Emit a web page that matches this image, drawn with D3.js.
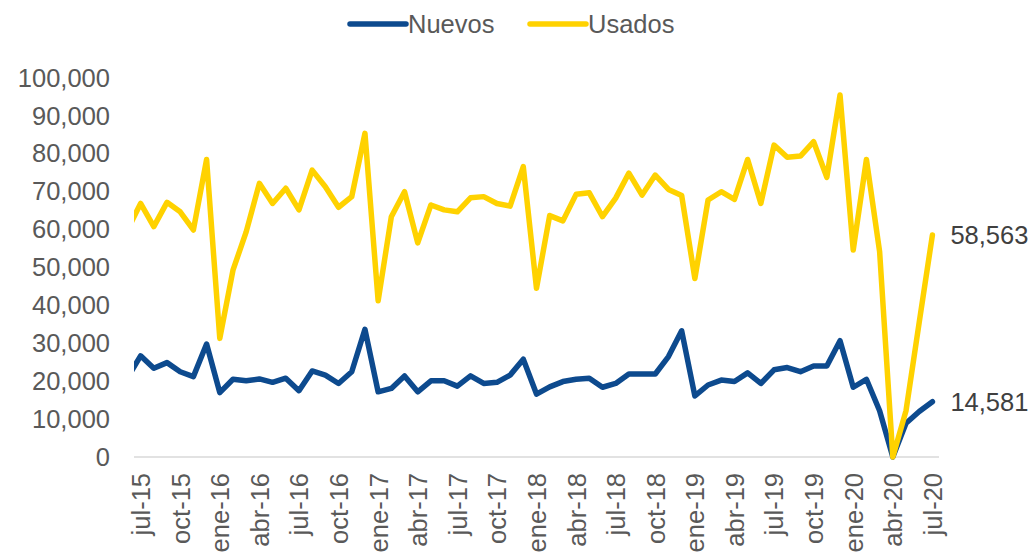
<!DOCTYPE html>
<html>
<head>
<meta charset="utf-8">
<script src="https://cdn.jsdelivr.net/npm/d3@7"></script>
<style>
  html, body { margin: 0; padding: 0; background: #ffffff; }
  #chart { width: 1033px; height: 556px; }
</style>
</head>
<body>
<div id="chart"></div>
<script>
// --- DATA ---
// first entry (jun-15) sits just left of the plot and is clipped, like in the original
const months = [
  "jun-15",
  "jul-15", "ago-15", "sep-15", "oct-15", "nov-15", "dic-15",
  "ene-16", "feb-16", "mar-16", "abr-16", "may-16", "jun-16",
  "jul-16", "ago-16", "sep-16", "oct-16", "nov-16", "dic-16",
  "ene-17", "feb-17", "mar-17", "abr-17", "may-17", "jun-17",
  "jul-17", "ago-17", "sep-17", "oct-17", "nov-17", "dic-17",
  "ene-18", "feb-18", "mar-18", "abr-18", "may-18", "jun-18",
  "jul-18", "ago-18", "sep-18", "oct-18", "nov-18", "dic-18",
  "ene-19", "feb-19", "mar-19", "abr-19", "may-19", "jun-19",
  "jul-19", "ago-19", "sep-19", "oct-19", "nov-19", "dic-19",
  "ene-20", "feb-20", "mar-20", "abr-20", "may-20", "jun-20",
  "jul-20"
];

const nuevos = [
  20900,
  26700, 23400, 24900, 22500, 21200, 29800, 17000, 20500, 20100, 20600, 19700, 20800,
  17500, 22700, 21600, 19400, 22500, 33700, 17200, 18100, 21400, 17200, 20100, 20100,
  18700, 21400, 19400, 19700, 21600, 25800, 16600, 18500, 19900, 20500, 20800, 18400,
  19400, 21900, 21900, 21900, 26500, 33300, 16100, 19000, 20300, 19900, 22200, 19400,
  23000, 23600, 22500, 24000, 24000, 30700, 18400, 20500, 12200, 0, 8900, 12000, 14581
];

const usados = [
  59900,
  66900, 60800, 67200, 64700, 59900, 78500, 31300, 49300, 59400, 72200, 66900, 70900,
  65200, 75700, 71300, 65900, 68700, 85400, 41200, 63400, 70000, 56500, 66500, 65200,
  64700, 68400, 68700, 66900, 66200, 76600, 44500, 63700, 62300, 69300, 69700, 63400,
  68300, 74900, 69100, 74400, 70600, 69000, 47100, 67800, 70000, 68000, 78500, 66900,
  82300, 79100, 79400, 83200, 73800, 95500, 54600, 78500, 54200, 0, 12200, 35500, 58563
];

const tickMonths = [
  "jul-15", "oct-15", "ene-16", "abr-16", "jul-16", "oct-16", "ene-17",
  "abr-17", "jul-17", "oct-17", "ene-18", "abr-18", "jul-18", "oct-18",
  "ene-19", "abr-19", "jul-19", "oct-19", "ene-20", "abr-20", "jul-20"
];

const yTicks = [0, 10000, 20000, 30000, 40000, 50000, 60000, 70000, 80000, 90000, 100000];

const SERIES = [
  { name: "Nuevos", values: nuevos, color: "#0D4A8E" },
  { name: "Usados", values: usados, color: "#FFD200" }
];

// --- LAYOUT ---
const WIDTH = 1033;
const HEIGHT = 556;
const PLOT = { left: 134, right: 939, top: 78, bottom: 457 };
const FONT = "'Liberation Sans', Arial, sans-serif";
const TEXT_COLOR = "#595959";

const svg = d3.select("#chart")
  .append("svg")
  .attr("width", WIDTH)
  .attr("height", HEIGHT)
  .style("font-family", FONT);

// x: months by index, jul-15 = 1 ... jul-20 = 61, bands of one month
const x = d3.scaleLinear()
  .domain([0.5, months.length - 0.5])
  .range([PLOT.left, PLOT.right]);

const y = d3.scaleLinear()
  .domain([0, 100000])
  .range([PLOT.bottom, PLOT.top]);

// y axis labels only
const yAxis = d3.axisLeft(y)
  .tickValues(yTicks)
  .tickFormat(d3.format(","))
  .tickSize(0)
  .tickPadding(0);

svg.append("g")
  .attr("transform", `translate(${PLOT.left - 24},0)`)
  .call(yAxis)
  .call(g => g.select(".domain").remove())
  .selectAll("text")
  .attr("font-family", FONT)
  .attr("font-size", "25.5px")
  .attr("fill", TEXT_COLOR);

// bottom axis line
svg.append("line")
  .attr("x1", PLOT.left)
  .attr("x2", PLOT.right)
  .attr("y1", y(0))
  .attr("y2", y(0))
  .attr("stroke", "#d9d9d9")
  .attr("stroke-width", 1.5);

// x labels, rotated
const xAxis = d3.axisBottom(x)
  .tickValues(tickMonths.map(m => months.indexOf(m)))
  .tickFormat(i => months[i])
  .tickSize(0);

svg.append("g")
  .attr("transform", `translate(0,${PLOT.bottom})`)
  .call(xAxis)
  .call(g => g.select(".domain").remove())
  .selectAll("text")
  .attr("font-family", FONT)
  .attr("font-size", "25.5px")
  .attr("fill", TEXT_COLOR)
  .attr("text-anchor", "end")
  .attr("transform", "rotate(-90)")
  .attr("x", -16)
  .attr("y", 0)
  .attr("dy", "0.35em");

// lines, clipped to the plot width
svg.append("clipPath")
  .attr("id", "plot-clip")
  .append("rect")
  .attr("x", PLOT.left)
  .attr("y", 0)
  .attr("width", PLOT.right - PLOT.left)
  .attr("height", HEIGHT);

const line = d3.line()
  .x((d, i) => x(i))
  .y(d => y(d));

svg.append("g")
  .attr("clip-path", "url(#plot-clip)")
  .selectAll("path")
  .data(SERIES)
  .join("path")
  .attr("d", d => line(d.values))
  .attr("fill", "none")
  .attr("stroke", d => d.color)
  .attr("stroke-width", 5.5)
  .attr("stroke-linejoin", "round")
  .attr("stroke-linecap", "round");

// end value labels
svg.selectAll("text.end-label")
  .data(SERIES)
  .join("text")
  .attr("class", "end-label")
  .attr("x", d => x(d.values.length - 1) + 18)
  .attr("y", d => y(d.values[d.values.length - 1]))
  .attr("dy", "0.35em")
  .attr("font-size", "25.5px")
  .attr("fill", "#404040")
  .text(d => d3.format(",")(d.values[d.values.length - 1]));

// legend
const legendX = [350, 530];
const legend = svg.selectAll("g.legend")
  .data(SERIES)
  .join("g")
  .attr("class", "legend")
  .attr("transform", (d, i) => `translate(${legendX[i]},24)`);

legend.append("line")
  .attr("x1", 0)
  .attr("x2", 56)
  .attr("stroke", d => d.color)
  .attr("stroke-width", 5.5)
  .attr("stroke-linecap", "round");

legend.append("text")
  .attr("x", 58)
  .attr("dy", "0.35em")
  .attr("font-size", "25.5px")
  .attr("fill", TEXT_COLOR)
  .text(d => d.name);
</script>
</body>
</html>
